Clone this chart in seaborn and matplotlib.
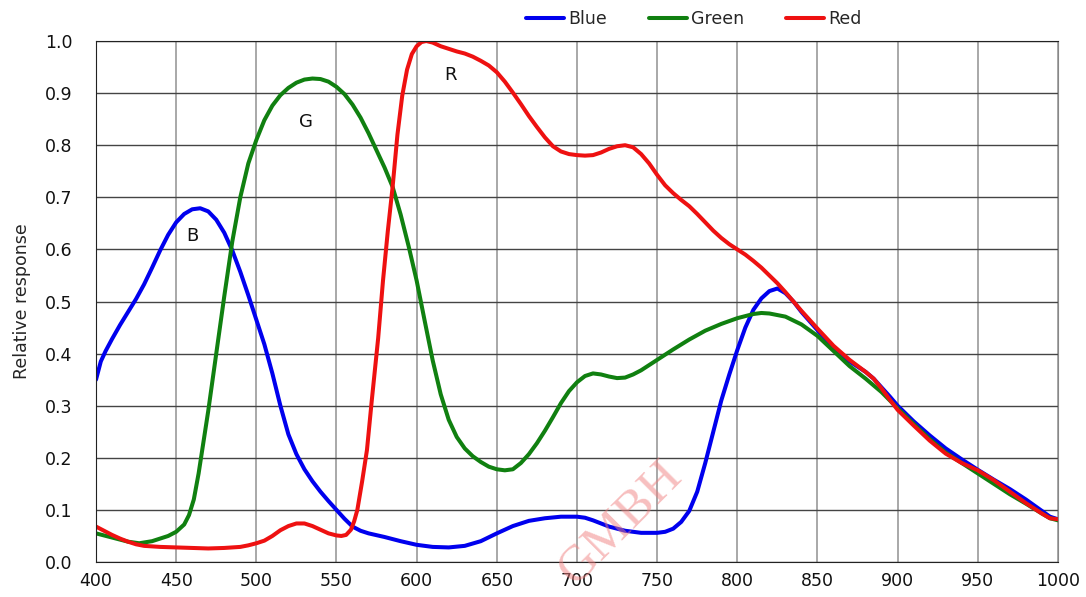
import pandas as pd
import matplotlib.pyplot as plt
import seaborn as sns

# spectral response
blue_nm = [400, 403, 406, 410, 415, 420, 425, 430, 435, 440, 445, 450, 455, 460, 465, 470, 475, 480,
           485, 490, 495, 500, 505, 510, 515, 520, 525, 530, 535, 540, 545, 550, 555, 560, 565, 570,
           580, 590, 600, 610, 620, 630, 640, 650, 660, 670, 680, 690, 700, 705, 710, 720, 730, 740,
           750, 755, 760, 765, 770, 775, 780, 785, 790, 795, 800, 805, 810, 815, 820, 825, 830, 835,
           840, 850, 860, 870, 880, 885, 890, 895, 900, 910, 920, 930, 940, 950, 960, 970, 980, 990,
           995, 1000]
blue_val = [0.35, 0.385, 0.405, 0.428, 0.455, 0.48, 0.505, 0.533, 0.565, 0.598, 0.628, 0.652, 0.668,
            0.677, 0.679, 0.673, 0.657, 0.632, 0.598, 0.557, 0.512, 0.465, 0.418, 0.362, 0.30, 0.245,
            0.207, 0.178, 0.155, 0.135, 0.117, 0.10, 0.083, 0.068, 0.06, 0.055, 0.048, 0.04, 0.033,
            0.029, 0.028, 0.031, 0.04, 0.055, 0.069, 0.079, 0.084, 0.087, 0.087, 0.085, 0.08, 0.068,
            0.06, 0.056, 0.056, 0.058, 0.064, 0.077, 0.098, 0.135, 0.19, 0.25, 0.31, 0.36, 0.407, 0.45,
            0.484, 0.506, 0.52, 0.525, 0.516, 0.50, 0.48, 0.445, 0.41, 0.385, 0.365, 0.352, 0.335, 0.318,
            0.30, 0.27, 0.243, 0.218, 0.197, 0.177, 0.158, 0.14, 0.12, 0.098, 0.087, 0.082]

green_nm = [400, 410, 420, 427, 435, 440, 445, 450, 455, 458, 461, 464, 467, 470, 475, 480, 485, 490,
            495, 500, 505, 510, 515, 520, 525, 530, 535, 540, 545, 550, 555, 560, 565, 570, 575, 580,
            585, 590, 595, 600, 605, 610, 615, 620, 625, 630, 635, 640, 645, 650, 655, 660, 665, 670,
            675, 680, 685, 690, 695, 700, 705, 710, 715, 720, 725, 730, 735, 740, 750, 760, 770, 780,
            790, 800, 810, 815, 820, 830, 840, 850, 860, 870, 880, 890, 900, 910, 920, 930, 940, 950,
            960, 970, 980, 990, 995, 1000]
green_val = [0.055, 0.047, 0.039, 0.036, 0.04, 0.045, 0.05, 0.058, 0.072, 0.09, 0.12, 0.17, 0.23, 0.29,
             0.40, 0.51, 0.615, 0.70, 0.765, 0.81, 0.848, 0.876, 0.896, 0.91, 0.92, 0.926, 0.928, 0.927,
             0.922, 0.912, 0.898, 0.878, 0.853, 0.823, 0.79, 0.757, 0.72, 0.667, 0.606, 0.54, 0.463,
             0.387, 0.322, 0.273, 0.24, 0.218, 0.203, 0.192, 0.183, 0.178, 0.176, 0.178, 0.19, 0.207,
             0.228, 0.252, 0.278, 0.305, 0.328, 0.345, 0.357, 0.362, 0.36, 0.356, 0.353, 0.354, 0.36,
             0.368, 0.388, 0.408, 0.427, 0.444, 0.457, 0.468, 0.476, 0.478, 0.477, 0.471, 0.456, 0.434,
             0.405, 0.376, 0.352, 0.326, 0.295, 0.265, 0.236, 0.21, 0.19, 0.17, 0.15, 0.13, 0.112, 0.093,
             0.084, 0.08]

red_nm = [400, 405, 410, 415, 420, 425, 430, 440, 450, 460, 470, 480, 490, 495, 500, 505, 510, 515,
          520, 525, 530, 535, 540, 545, 550, 553, 556, 559, 561, 563, 566, 569, 572, 576, 579, 582,
          585, 588, 591, 594, 597, 600, 603, 606, 610, 615, 620, 625, 630, 635, 640, 645, 650, 655,
          660, 665, 670, 675, 680, 685, 690, 695, 700, 705, 710, 715, 720, 725, 730, 735, 740, 745,
          750, 755, 760, 765, 770, 775, 780, 785, 790, 795, 800, 805, 810, 815, 820, 825, 830, 835,
          840, 845, 850, 860, 870, 880, 885, 890, 895, 900, 910, 920, 930, 940, 950, 960, 970, 980,
          990, 995, 1000]
red_val = [0.068, 0.06, 0.052, 0.045, 0.039, 0.034, 0.031, 0.029, 0.028, 0.027, 0.026, 0.027, 0.029,
           0.032, 0.036, 0.041, 0.05, 0.061, 0.069, 0.074, 0.074, 0.069, 0.062, 0.055, 0.051, 0.05,
           0.052, 0.062, 0.078, 0.10, 0.155, 0.215, 0.31, 0.43, 0.54, 0.635, 0.72, 0.82, 0.895, 0.945,
           0.975, 0.99, 0.998, 1.0, 0.997, 0.99, 0.985, 0.98, 0.976, 0.97, 0.962, 0.953, 0.94, 0.922,
           0.901, 0.879, 0.856, 0.835, 0.815, 0.798, 0.788, 0.783, 0.781, 0.78, 0.781, 0.786, 0.793,
           0.798, 0.80, 0.796, 0.783, 0.765, 0.743, 0.723, 0.708, 0.695, 0.683, 0.668, 0.652, 0.636,
           0.622, 0.61, 0.60, 0.59, 0.578, 0.565, 0.55, 0.535, 0.518, 0.50, 0.482, 0.465, 0.448, 0.415,
           0.388, 0.365, 0.352, 0.333, 0.312, 0.292, 0.262, 0.233, 0.208, 0.19, 0.176, 0.157, 0.135,
           0.113, 0.093, 0.084, 0.082]

curve_labels = ['B', 'G', 'R']
curve_label_pos = [(460, 0.626), (531, 0.845), (621, 0.935)]

sns.set_style('white')
plt.rcParams['font.family'] = ['DejaVu Sans']

fig = plt.figure(figsize=(10.86, 5.97), dpi=100)
ax = fig.add_axes([0.0884, 0.0586, 0.8858, 0.8727])

line_kw = dict(linewidth=2.9, solid_joinstyle='round', solid_capstyle='round', ax=ax)
sns.lineplot(x=blue_nm, y=blue_val, color='#0000ee', label='Blue', **line_kw)
sns.lineplot(x=green_nm, y=green_val, color='#108010', label='Green', **line_kw)
sns.lineplot(x=red_nm, y=red_val, color='#ee1111', label='Red', **line_kw)

ax.set_xlim(400, 1000)
ax.set_ylim(0, 1.0)
ax.set_xticks(range(400, 1001, 50))
ax.set_yticks([i / 10 for i in range(11)])
ax.set_yticklabels([f'{i / 10:.1f}' for i in range(11)])
ax.tick_params(length=0, labelsize=12.5, colors='#111111')
ax.tick_params(axis='y', pad=17)
ax.tick_params(axis='x', pad=7)
ax.xaxis.grid(True, color='#999999', linewidth=1.2)
ax.yaxis.grid(True, color='#444444', linewidth=1.0)
ax.set_axisbelow(True)
for side in ['left', 'bottom', 'top']:
    ax.spines[side].set_color('#222222')
ax.spines['right'].set_color('#888888')
ax.set_xlabel('')
ax.set_ylabel('Relative response', fontsize=12.5, labelpad=10)

for txt, (x, y) in zip(curve_labels, curve_label_pos):
    ax.text(x, y, txt, fontsize=13, ha='center', va='center', color='#111111')

# watermark
ax.text(727, 0.075, 'GMBH', fontsize=37, rotation=45, color='#f08080', alpha=0.5,
        family=['Liberation Serif', 'DejaVu Serif'], ha='center', va='center', clip_on=False)

ax.get_legend().remove()
handles, labels = ax.get_legend_handles_labels()
fig.legend(handles, labels, loc='center', bbox_to_anchor=(0.639, 0.968), ncol=3, frameon=False,
           fontsize=12.5, handlelength=2.2, handletextpad=0.25, columnspacing=2.4)

plt.savefig('out.png', dpi=100)
